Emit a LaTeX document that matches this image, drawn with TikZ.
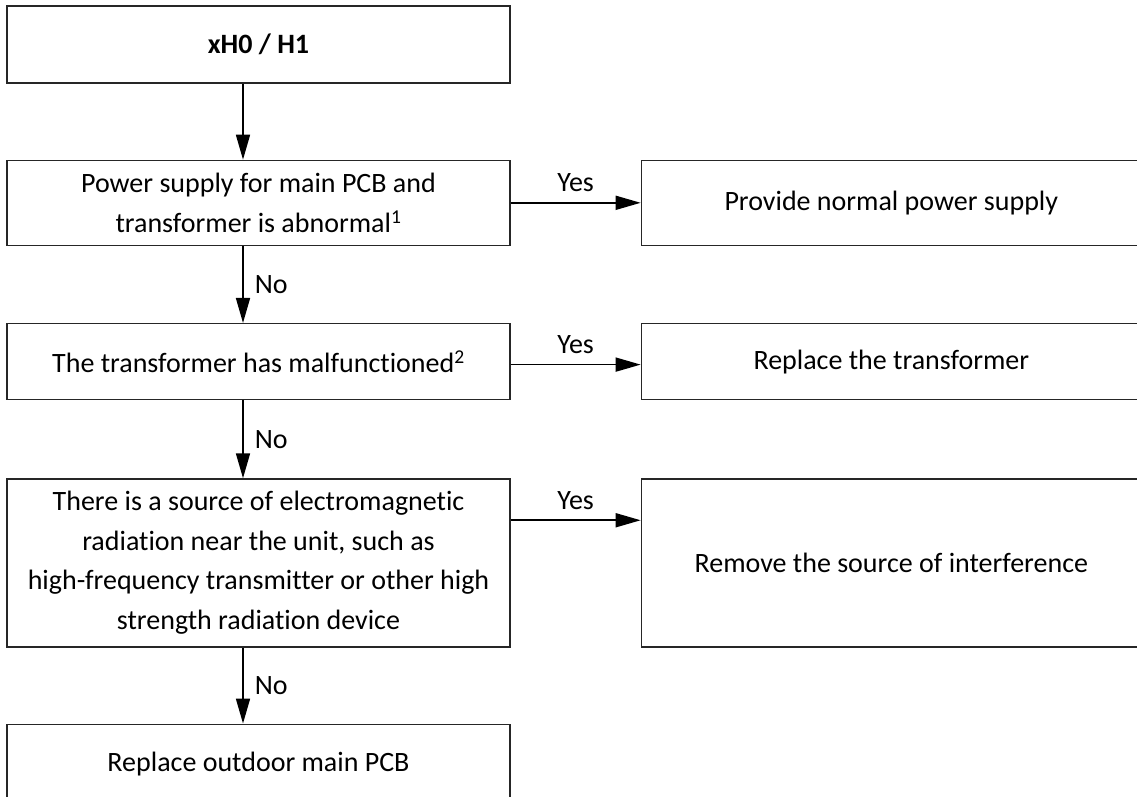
\documentclass[tikz,border=0pt]{standalone}
\usepackage{fontspec}
\setmainfont{Carlito}[Ligatures=NoCommon]
\usetikzlibrary{positioning,arrows.meta}

\begin{document}
\begin{tikzpicture}[
  box/.style={draw=black!85, line width=1.3pt, align=center, inner sep=4pt,
              minimum width=503pt, font=\fontsize{28}{39.5}\selectfont},
  fixbox/.style={box, minimum width=500pt},
  ar/.style={-{Triangle[length=25pt, width=14pt]}, line width=1.7pt},
  lbl/.style={font=\fontsize{28}{30}\selectfont, inner sep=4pt}
]
  \path[use as bounding box, clip] (0,0) rectangle (1137pt,-796pt);

  \node[box, minimum height=77pt] (start) at (258.5pt,-44.5pt) {\textbf{xH0 / H1}};
  \node[box, minimum height=85pt, below=76pt of start] (supply)
    {Power supply for main PCB and\\ transformer is abnormal\textsuperscript{1}};
  \node[box, minimum height=76pt, below=77pt of supply] (trans)
    {The transformer has malfunctioned\textsuperscript{2}};
  \node[box, minimum height=168pt, below=78pt of trans] (radio)
    {There is a source of electromagnetic\\ radiation near the unit, such as\\
     high-frequency transmitter or other high\\ strength radiation device};
  \node[box, minimum height=80pt, below=76pt of radio] (pcb) {Replace outdoor main PCB};

  \node[fixbox, minimum height=85pt, right=130pt of supply] (fixsupply) {Provide normal power supply};
  \node[fixbox, minimum height=76pt, right=130pt of trans] (fixtrans) {Replace the transformer};
  \node[fixbox, minimum height=168pt, right=130pt of radio] (fixradio) {Remove the source of interference};

  % down the No branch
  \draw[ar] ([xshift=-15.5pt]start.south) -- ([xshift=-15.5pt]supply.north);
  \draw[ar] ([xshift=-15.5pt]supply.south) -- node[lbl, right=7pt] {No} ([xshift=-15.5pt]trans.north);
  \draw[ar] ([xshift=-15.5pt]trans.south) -- node[lbl, right=7pt] {No} ([xshift=-15.5pt]radio.north);
  \draw[ar] ([xshift=-15.5pt]radio.south) -- node[lbl, right=7pt] {No} ([xshift=-15.5pt]pcb.north);

  % Yes branch
  \draw[ar] (supply.east) -- node[lbl, above=6pt] {Yes} (fixsupply.west);
  \draw[ar] ([yshift=-3pt]trans.east) -- node[lbl, above=6pt] {Yes} ([yshift=-3pt]fixtrans.west);
  \draw[ar] ([yshift=-42pt]radio.north east) -- node[lbl, above=6pt] {Yes} ([yshift=-42pt]fixradio.north west);
\end{tikzpicture}
\end{document}
